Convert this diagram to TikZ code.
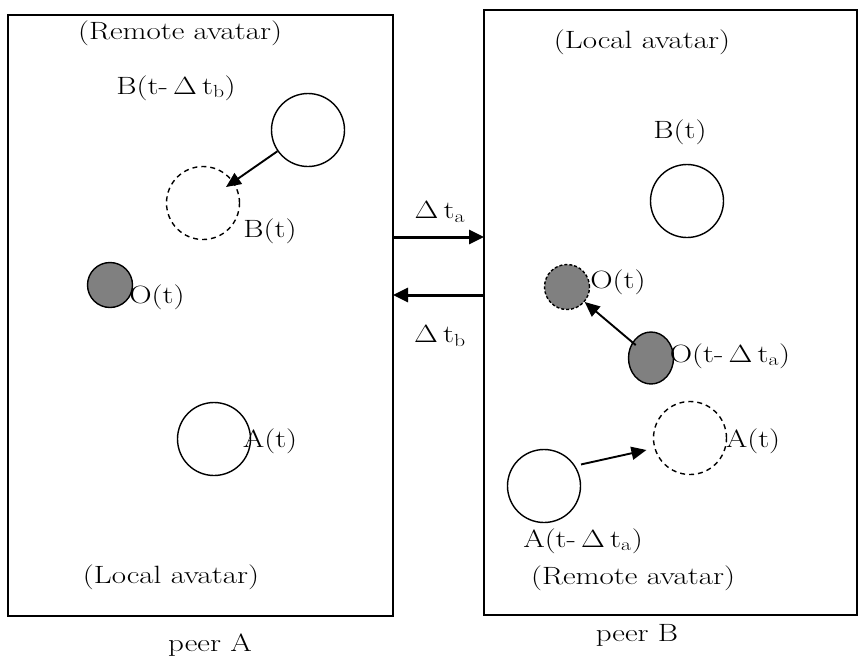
\documentclass[tikz,border=0pt]{standalone}
\usetikzlibrary{arrows.meta,shapes.geometric,calc}
\newcommand{\stretchtxt}[1]{\scalebox{1.24}[1]{#1}}
\begin{document}
\begin{tikzpicture}[x=1pt,y=-1pt,
  lbl/.style={inner sep=0pt,font=\fontsize{25}{30}\selectfont},
  peerbox/.style={draw,line width=1.6pt,rectangle,inner sep=0pt,outer sep=0pt},
  avatar/.style={draw,circle,line width=1.4pt,minimum size=73pt,inner sep=0pt},
  ghost/.style={avatar,dash pattern=on 5pt off 4pt},
  obj/.style={draw,ellipse,line width=1.4pt,fill=gray,minimum width=45pt,minimum height=45pt,inner sep=0pt},
  move/.style={line width=1.9pt,-{Triangle[length=15pt,width=13pt]}},
  msg/.style={line width=3pt,-{Triangle[length=15pt,width=14pt]}}]
\useasboundingbox (0,0) rectangle (860,659);
% boxes
\node[peerbox,minimum width=385pt,minimum height=601pt] (boxA) at (200.5,315.5) {};
\node[peerbox,minimum width=373pt,minimum height=605pt] (boxB) at (670.5,312.5) {};
% peer A contents
\node[lbl] (remA) at (180,33) {\stretchtxt{(Remote avatar)}};
\node[lbl] (lBold) at (176,88) {\stretchtxt{B(t-\,$\Delta$\,t\textsubscript{b})}};
\node[avatar] (Bold) at (308,130) {};
\node[ghost] (Bnew) at (203,203) {};
\node[lbl] (lBnew) at (270,231) {\stretchtxt{B(t)}};
\node[obj] (OA) at (110,285) {};
\node[lbl] (lOA) at (157,297) {\stretchtxt{O(t)}};
\node[avatar] (AA) at (214,439) {};
\node[lbl] (lAA) at (270,441) {\stretchtxt{A(t)}};
\node[lbl] (locA) at (171,577) {\stretchtxt{(Local avatar)}};
\node[lbl] (peerA) at (210,645) {\stretchtxt{peer A}};
% peer B contents
\node[lbl] (locB) at (642,42) {\stretchtxt{(Local avatar)}};
\node[lbl] (lBB) at (680,132) {\stretchtxt{B(t)}};
\node[avatar] (BB) at (687,201) {};
\node[obj,dash pattern=on 3pt off 2pt] (Onew) at (567,287) {};
\node[lbl] (lOnew) at (618,282) {\stretchtxt{O(t)}};
\node[obj,minimum height=52pt] (Oold) at (651,358) {};
\node[lbl] (lOold) at (730,356) {\stretchtxt{O(t-\,$\Delta$\,t\textsubscript{a})}};
\node[ghost] (Anew) at (690,438) {};
\node[lbl] (lAnew) at (753,441) {\stretchtxt{A(t)}};
\node[avatar] (Aold) at (544,486) {};
\node[lbl] (lAold) at (583,541) {\stretchtxt{A(t-\,$\Delta$\,t\textsubscript{a})}};
\node[lbl] (remB) at (633,578) {\stretchtxt{(Remote avatar)}};
\node[lbl] (peerB) at (637,635) {\stretchtxt{peer B}};
% messages
\node[lbl] (dta) at (440,212) {\stretchtxt{$\Delta$\,t\textsubscript{a}}};
\node[lbl] (dtb) at (440,336) {\stretchtxt{$\Delta$\,t\textsubscript{b}}};
\draw[msg] (boxA.east |- 0,237) -- (boxB.west |- 0,237);
\draw[msg] (boxB.west |- 0,295) -- (boxA.east |- 0,295);
% movements
\draw[move,shorten >=28pt] (Bold) -- (Bnew.center);
\draw[move,shorten <=20pt] (Oold.center) -- (Onew);
\draw[move,shorten <=6pt,shorten >=8pt] (Aold.33) -- (Anew.196);
\end{tikzpicture}
\end{document}
